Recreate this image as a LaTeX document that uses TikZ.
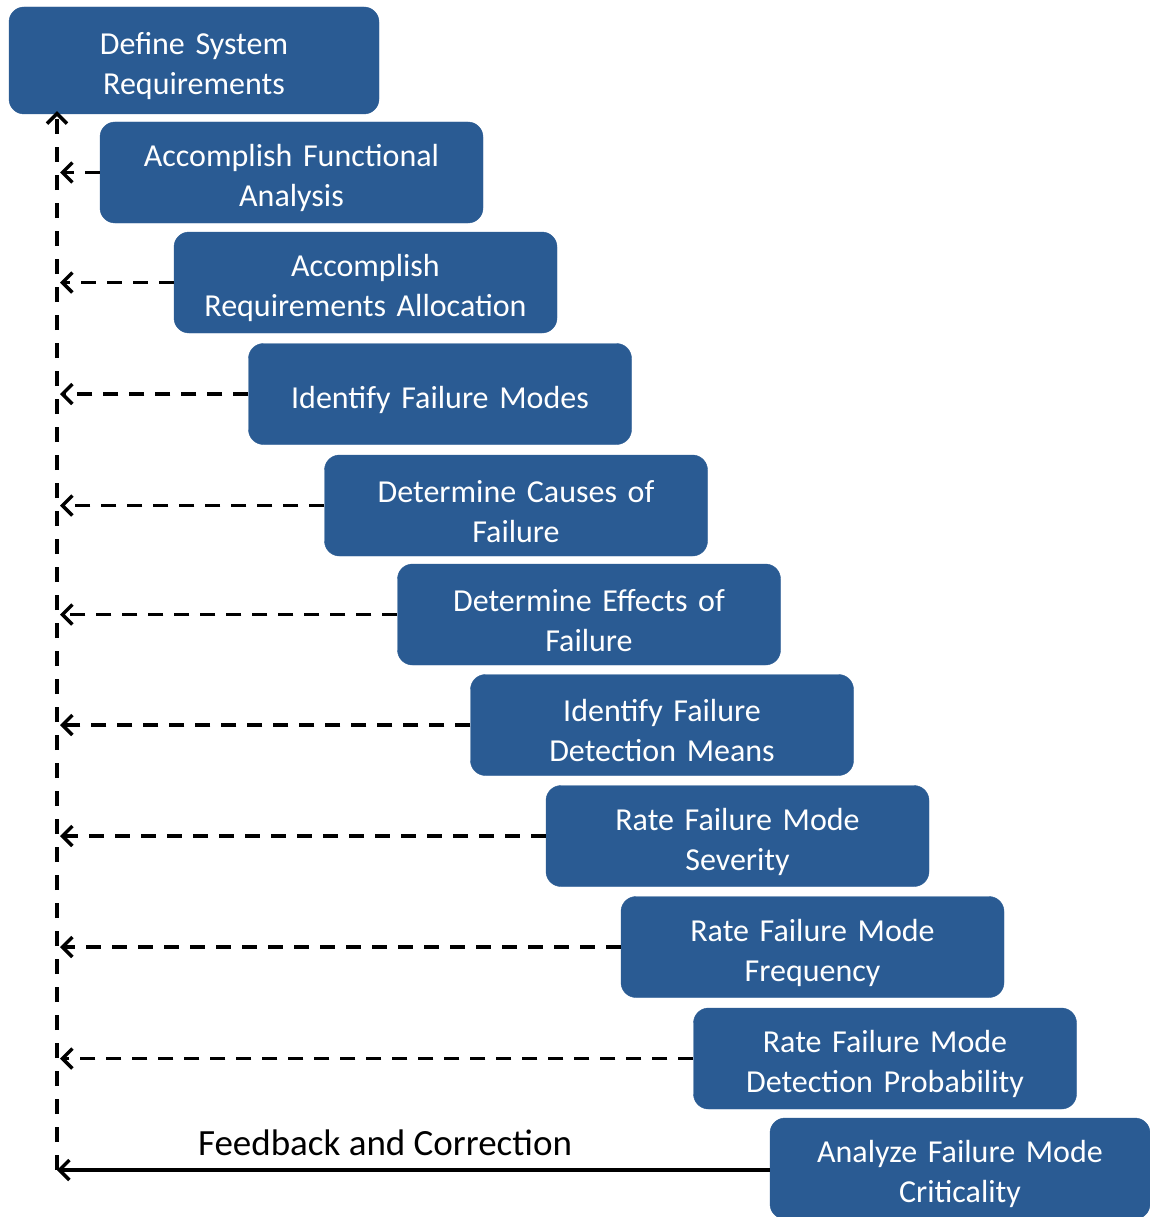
\documentclass[tikz,border=0pt]{standalone}
\usepackage{fontspec}
\setmainfont{Carlito}
\usetikzlibrary{arrows.meta}
\definecolor{stepblue}{HTML}{2A5B93}
\tikzset{
  stepbox/.style={draw=stepblue, fill=stepblue, rounded corners=15pt,
    minimum width=383pt, minimum height=101pt, text width=375pt,
    align=center, text=white, inner sep=0pt,
    font=\fontsize{32}{40}\selectfont,
    execute at begin node={\rule{0pt}{34pt}}},
  barb/.style={-{Straight Barb[length=10pt,width=20pt,line width=3.5pt]}},
  feed/.style={line width=3.5pt, dash pattern=on 15pt off 11pt, barb},
  spinedash/.style={line width=3.5pt, dash pattern=on 15pt off 13pt, barb},
  solidfeed/.style={line width=3.5pt, barb}
}
\begin{document}
\begin{tikzpicture}[x=1pt,y=-1pt]
\useasboundingbox (0,0) rectangle (1150,1217);
\clip (0,0) rectangle (1150,1217);
% process steps, stepping down and to the right
\node[stepbox, minimum width=370pt, text width=360pt, minimum height=107pt] (d1) at (194,60.5) {Define System\\Requirements};
\node[stepbox] (d2) at (291.5,172.5) {Accomplish Functional\\Analysis};
\node[stepbox] (d3) at (365.5,282.5) {Accomplish\\Requirements Allocation};
\node[stepbox] (d4) at (440,394) {Identify Failure Modes};
\node[stepbox] (d5) at (516,505.5) {Determine Causes of\\Failure};
\node[stepbox] (d6) at (589,614.5) {Determine Effects of\\Failure};
\node[stepbox] (d7) at (662,725) {Identify Failure\\Detection Means};
\node[stepbox] (d8) at (737.5,836) {Rate Failure Mode\\Severity};
\node[stepbox] (d9) at (812.5,947) {Rate Failure Mode\\Frequency};
\node[stepbox] (d10) at (885,1058.5) {Rate Failure Mode\\Detection Probability};
\node[stepbox, minimum width=380pt] (d11) at (960,1168.5) {Analyze Failure Mode\\Criticality};

% return path on the left
\coordinate (spine) at (57,1170);
\draw[spinedash] (spine) -- ([yshift=3pt]spine |- d1.south);
\foreach \n in {2,...,10}{
  \draw[feed] (d\n.west) -- ([xshift=3pt]d\n.west -| spine);
}
\draw[solidfeed] (d11.west |- spine) -- (spine);
\node[font=\fontsize{37}{40}\selectfont] (fb) at (385,1143) {Feedback and Correction};
\end{tikzpicture}
\end{document}
